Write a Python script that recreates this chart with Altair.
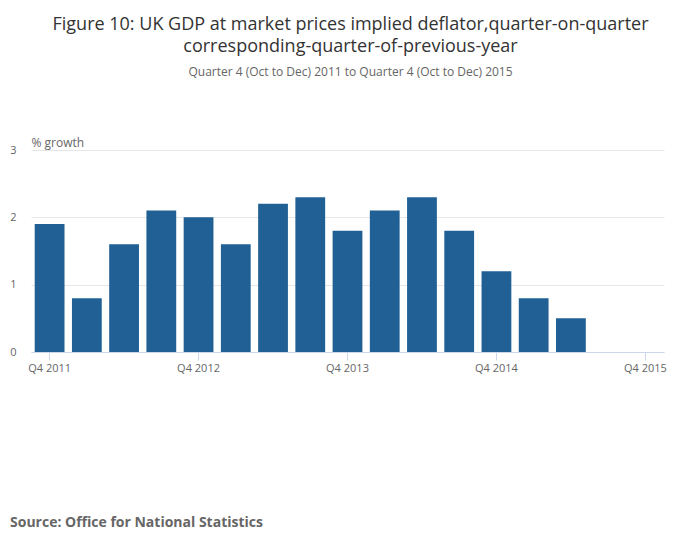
import altair as alt
import pandas as pd

quarters = ["Q4 2011", "Q1 2012", "Q2 2012", "Q3 2012", "Q4 2012",
            "Q1 2013", "Q2 2013", "Q3 2013", "Q4 2013",
            "Q1 2014", "Q2 2014", "Q3 2014", "Q4 2014",
            "Q1 2015", "Q2 2015", "Q3 2015", "Q4 2015"]
values = [1.9, 0.8, 1.6, 2.1, 2.0, 1.6, 2.2, 2.3, 1.8, 2.1, 2.3, 1.8, 1.2, 0.8, 0.5, None, None]
tick_labels = ["Q4 2011", "Q4 2012", "Q4 2013", "Q4 2014", "Q4 2015"]
title_lines = ["Figure 10: UK GDP at market prices implied deflator,quarter-on-quarter",
               "corresponding-quarter-of-previous-year"]
subtitle = "Quarter 4 (Oct to Dec) 2011 to Quarter 4 (Oct to Dec) 2015"
source = "Source: Office for National Statistics"

df = pd.DataFrame({"quarter": quarters, "value": values})
FONT = "Open Sans"

bars = alt.Chart(df).mark_bar(color="#206095").encode(
    x=alt.X("quarter:N", sort=quarters,
            scale=alt.Scale(domain=quarters, paddingInner=0.2, paddingOuter=0.1),
            axis=alt.Axis(values=tick_labels, title=None, labelAngle=0,
                          domainColor="#ccd6eb", tickColor="#ccd6eb", tickSize=8,
                          labelColor="#666666", labelFontSize=11, labelFont=FONT,
                          labelPadding=2, grid=False)),
    y=alt.Y("value:Q", scale=alt.Scale(domain=[0, 3]),
            axis=alt.Axis(values=[0, 1, 2, 3], title="% growth", titleAngle=0,
                          titleX=0, titleY=-1, titleAlign="left", titleBaseline="bottom",
                          titleFont=FONT, titleFontSize=12, titleFontWeight="normal",
                          titleColor="#666666",
                          domain=False, ticks=False, gridColor="#e6e6e6",
                          labelColor="#666666", labelFontSize=11, labelFont=FONT,
                          labelPadding=15)),
)

src = alt.Chart(pd.DataFrame({"t": [source]})).mark_text(
    align="left", baseline="middle", fontWeight="bold", fontSize=14,
    color="#666666", font=FONT
).encode(text="t:N", x=alt.value(-21), y=alt.value(373))

chart = alt.layer(bars, src).properties(
    width=633, height=202,
    title=alt.TitleParams(text=title_lines, subtitle=subtitle, anchor="middle",
                          font=FONT, fontSize=18, fontWeight="normal", color="#333333",
                          lineHeight=22, subtitleFont=FONT, subtitleFontSize=12,
                          subtitleColor="#666666", subtitlePadding=11, offset=58, dx=3),
    autosize=alt.AutoSizeParams(type="none"),
    padding={"left": 23, "top": 142, "right": 28, "bottom": 180},
).configure_view(stroke=None)

chart.save("out.html", embed_options={"renderer": "svg", "actions": False})
